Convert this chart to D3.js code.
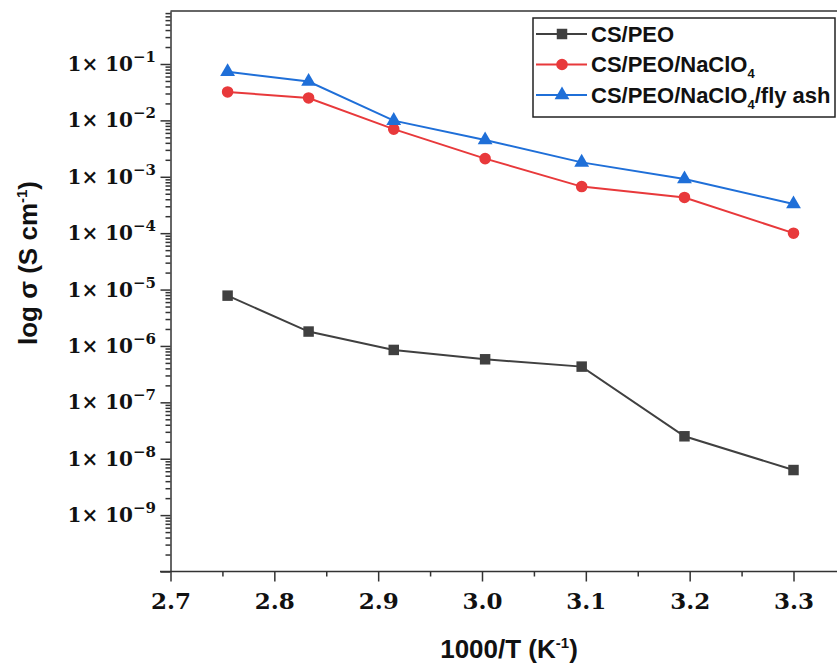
<!DOCTYPE html>
<meta charset="utf-8">
<head>
  <meta charset="utf-8">
  <title>Conductivity vs 1000/T</title>
</head>
<style>
body { margin: 0; background: #fff; }
.axis path, .axis line { stroke: #333; stroke-width: 1.5; }
.serif { font-family: 'DejaVu Serif', serif; font-weight: bold; fill: #111; }
.sans { font-family: 'Liberation Sans', Arial, sans-serif; font-weight: bold; fill: #111; }
</style>
<body>
<div class="chart"></div>

<script src="https://cdnjs.cloudflare.com/ajax/libs/d3/7.8.5/d3.min.js"></script>
<script>

// data
var xVals = [2.755, 2.833, 2.915, 3.003, 3.096, 3.195, 3.300]
var csPeo = [7.8e-6, 1.8e-6, 8.5e-7, 5.8e-7, 4.3e-7, 2.5e-8, 6.3e-9]
var csPeoNa = [3.2e-2, 2.5e-2, 7.0e-3, 2.1e-3, 6.7e-4, 4.3e-4, 1.0e-4]
var csPeoNaFly = [7.3e-2, 4.9e-2, 9.9e-3, 4.5e-3, 1.8e-3, 9.1e-4, 3.3e-4]
var xTicks = [2.7, 2.8, 2.9, 3.0, 3.1, 3.2, 3.3]
var yExps = [-1, -2, -3, -4, -5, -6, -7, -8, -9]

var width = 837
var height = 668

var svg = d3.select('.chart').append('svg')
    .attr('width', width)
    .attr('height', height)

var x = d3.scaleLinear().domain([2.7, 3.3]).range([170.5, 793.5])
var y = d3.scaleLog().domain([1e-10, Math.pow(10, -0.06)]).range([571.5, 11])

// frame top
svg.append('line')
    .attr('x1', 170.5).attr('x2', width)
    .attr('y1', 11).attr('y2', 11)
    .attr('stroke', '#333').attr('stroke-width', 1.5)

// minor y ticks (2..9 in each decade)
var minorY = []
for (var e = -10; e <= -1; e++) {
  for (var m = 2; m <= 9; m++) {
    var v = m * Math.pow(10, e)
    if (v < y.domain()[1]) minorY.push(v)
  }
}
svg.append('g').attr('class', 'axis')
    .attr('transform', 'translate(170.5,0)')
    .call(d3.axisLeft(y).tickValues(minorY).tickSize(5).tickFormat(''))
    .select('.domain').remove()

var yAxis = svg.append('g').attr('class', 'axis')
    .attr('transform', 'translate(170.5,0)')
    .call(d3.axisLeft(y).tickValues(yExps.map(function (e) { return Math.pow(10, e) }).concat([1e-10]))
      .tickSize(10).tickSizeOuter(0).tickFormat(''))

// y tick labels "1× 10^n"
yExps.forEach(function (e) {
  var t = svg.append('text').attr('class', 'serif')
      .attr('x', 156).attr('y', y(Math.pow(10, e)) + 7)
      .attr('text-anchor', 'end')
      .style('font-size', '20px')
  t.append('tspan').text('1\u00d7 10')
  t.append('tspan').text('\u2212' + (-e))
      .style('font-size', '15px')
      .attr('dy', -9)
})

// x axis
var minorX = d3.range(2.75, 3.4, 0.1)
svg.append('g').attr('class', 'axis')
    .attr('transform', 'translate(0,571.5)')
    .call(d3.axisBottom(x).tickValues(minorX).tickSize(5).tickFormat(''))
    .select('.domain').remove()

var xAxis = svg.append('g').attr('class', 'axis')
    .attr('transform', 'translate(0,571.5)')
    .call(d3.axisBottom(x).tickValues(xTicks).tickSize(10).tickSizeOuter(0)
      .tickPadding(11).tickFormat(d3.format('.1f')))
xAxis.select('.domain').attr('d', 'M160,0H' + width)
xAxis.selectAll('text').attr('class', 'serif').style('font-size', '23px')

// axis titles
var xt = svg.append('text').attr('class', 'sans')
    .attr('x', 509).attr('y', 658)
    .attr('text-anchor', 'middle')
    .style('font-size', '26px')
xt.append('tspan').text('1000/T (K')
xt.append('tspan').text('-1').style('font-size', '15px').attr('dy', -10)
xt.append('tspan').text(')').attr('dy', 10)

var yt = svg.append('text').attr('class', 'sans')
    .attr('transform', 'translate(37,263) rotate(-90)')
    .attr('text-anchor', 'middle')
    .style('font-size', '26px')
yt.append('tspan').text('log \u03c3 (S cm')
yt.append('tspan').text('-1').style('font-size', '15px').attr('dy', -10)
yt.append('tspan').text(')').attr('dy', 10)

// series
var series = [
  { name: 'CS/PEO', values: csPeo, color: '#404040', marker: 'square' },
  { name: 'CS/PEO/NaClO4', values: csPeoNa, color: '#e8393b', marker: 'circle' },
  { name: 'CS/PEO/NaClO4/fly ash', values: csPeoNaFly, color: '#1f6fd8', marker: 'triangle' }
]
var symbols = { square: d3.symbolSquare, circle: d3.symbolCircle, triangle: d3.symbolTriangle }
var sizes = { square: 110, circle: 105, triangle: 95 }

var line = d3.line()
    .x(function (d) { return x(d[0]) })
    .y(function (d) { return y(d[1]) })

series.forEach(function (s) {
  var pts = xVals.map(function (xv, i) { return [xv, s.values[i]] })
  svg.append('path')
      .datum(pts)
      .attr('d', line)
      .attr('fill', 'none')
      .attr('stroke', s.color)
      .attr('stroke-width', 2)
  svg.selectAll(null)
      .data(pts)
      .enter().append('path')
      .attr('d', d3.symbol().type(symbols[s.marker]).size(sizes[s.marker]))
      .attr('transform', function (d) { return 'translate(' + x(d[0]) + ',' + y(d[1]) + ')' })
      .attr('fill', s.color)
})

// legend
var lg = svg.append('g')
lg.append('rect')
    .attr('x', 533).attr('y', 18).attr('width', 302).attr('height', 99)
    .attr('fill', '#fff').attr('stroke', '#222').attr('stroke-width', 1.5)

series.forEach(function (s, i) {
  var ly = 34 + i * 30.5
  lg.append('line')
      .attr('x1', 536).attr('x2', 587).attr('y1', ly).attr('y2', ly)
      .attr('stroke', s.color).attr('stroke-width', 2)
  lg.append('path')
      .attr('d', d3.symbol().type(symbols[s.marker]).size(sizes[s.marker]))
      .attr('transform', 'translate(562,' + ly + ')')
      .attr('fill', s.color)
  var t = lg.append('text').attr('class', 'sans')
      .attr('x', 591).attr('y', ly + 7.5)
      .style('font-size', '22px')
  var parts = s.name.split('ClO4')
  t.append('tspan').text(parts[0] + (parts.length > 1 ? 'ClO' : ''))
  if (parts.length > 1) {
    t.append('tspan').text('4').style('font-size', '13px').attr('dy', 6)
    if (parts[1]) t.append('tspan').text(parts[1]).attr('dy', -6)
  }
})

</script>
</body>
